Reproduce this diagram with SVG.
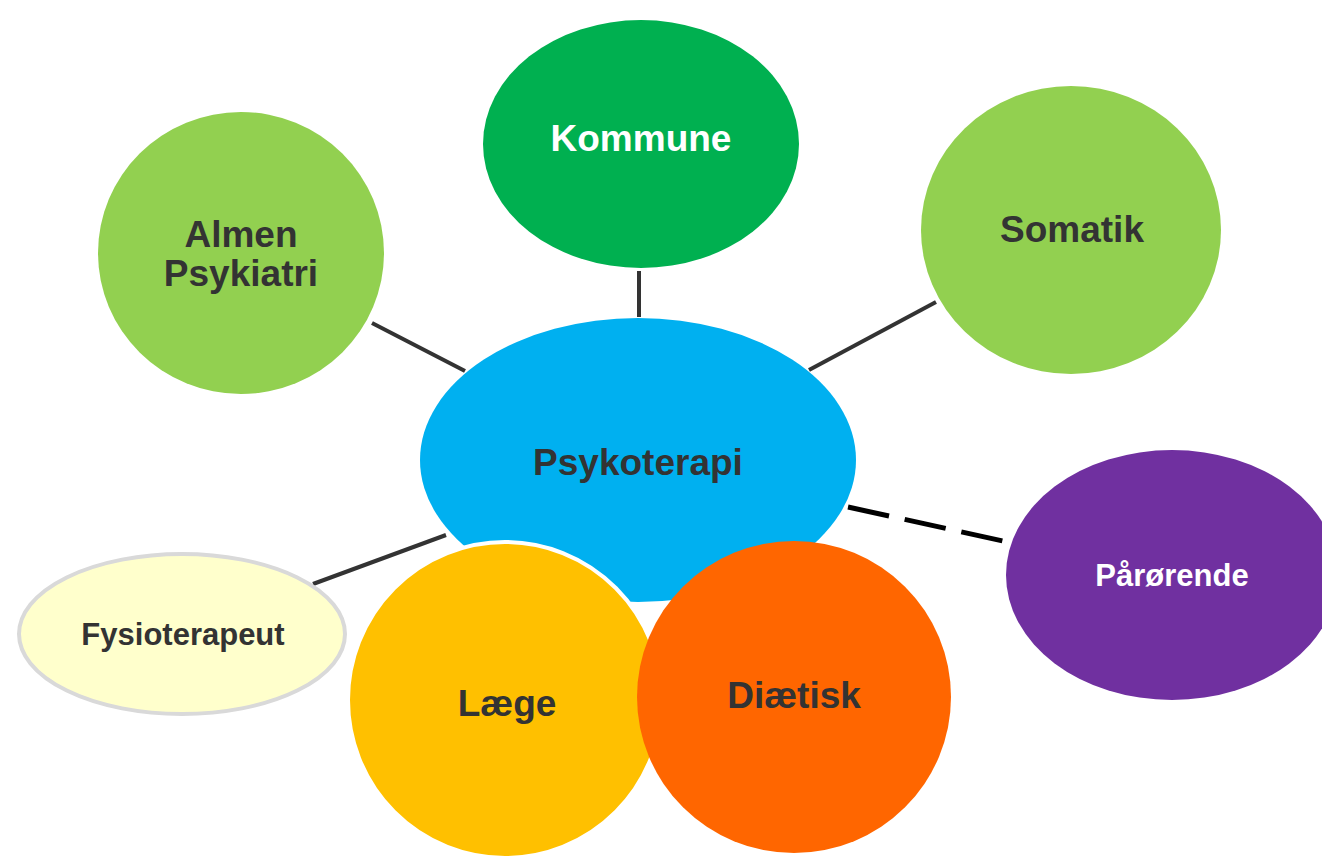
<svg xmlns="http://www.w3.org/2000/svg" width="1322" height="858" viewBox="0 0 1322 858">
<style>
.t{font-family:"Liberation Sans",Arial,sans-serif;font-weight:bold;text-anchor:middle}
.d{fill:#333333}
.w{fill:#ffffff}
.c{stroke:#333333;stroke-width:4;fill:none}
</style>
<rect width="1322" height="858" fill="#ffffff"/>
<g id="connectors">
<line class="c" x1="372" y1="323" x2="465" y2="371"/>
<line class="c" x1="639" y1="271" x2="639" y2="317"/>
<line class="c" x1="936" y1="302" x2="809" y2="370"/>
<line class="c" x1="313" y1="584" x2="446" y2="535"/>
<line x1="848" y1="507" x2="1003" y2="541" stroke="#000000" stroke-width="5" stroke-dasharray="42,16"/>
</g>
<g id="kommune">
<ellipse cx="641" cy="144" rx="158" ry="124" fill="#00b050"/>
<text class="t w" x="641" y="151" font-size="37">Kommune</text>
</g>
<g id="almen">
<ellipse cx="241" cy="253" rx="143" ry="141" fill="#92d050"/>
<text class="t d" x="241" y="247" font-size="37">Almen</text>
<text class="t d" x="241" y="286" font-size="37">Psykiatri</text>
</g>
<g id="somatik">
<ellipse cx="1071" cy="230" rx="150" ry="144" fill="#92d050"/>
<text class="t d" x="1072" y="242" font-size="37">Somatik</text>
</g>
<g id="psykoterapi">
<ellipse cx="638" cy="460" rx="218" ry="142" fill="#00b0f0"/>
<text class="t d" x="638" y="475" font-size="37">Psykoterapi</text>
</g>
<g id="parorende">
<ellipse cx="1172" cy="575" rx="166" ry="125" fill="#7030a0"/>
<text class="t w" x="1172" y="586" font-size="31">Pårørende</text>
</g>
<g id="fysioterapeut">
<ellipse cx="182" cy="634" rx="163" ry="80" fill="#ffffcc" stroke="#d9d9d9" stroke-width="4"/>
<text class="t d" x="183" y="645" font-size="31">Fysioterapeut</text>
</g>
<g id="laege">
<ellipse cx="505" cy="700" rx="157" ry="158" fill="#ffc000" stroke="#ffffff" stroke-width="4"/>
<text class="t d" x="507" y="716" font-size="37">Læge</text>
</g>
<g id="diaetisk">
<ellipse cx="794" cy="697" rx="157" ry="156" fill="#ff6600"/>
<text class="t d" x="794" y="708" font-size="37">Diætisk</text>
</g>
</svg>
